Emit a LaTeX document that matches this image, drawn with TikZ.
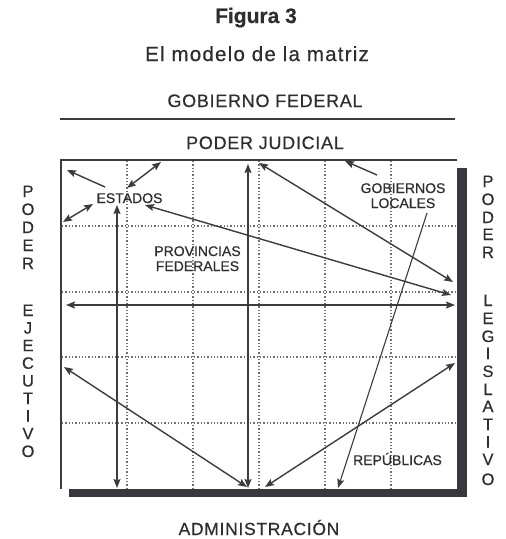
\documentclass[tikz,border=0pt]{standalone}
\usepackage{fontspec}
\setmainfont{Liberation Sans}[FakeBold=0.5]
\usetikzlibrary{arrows.meta}
\definecolor{ink}{HTML}{2E2E2E}
\definecolor{lineink}{HTML}{3C3C3C}
\definecolor{shadowink}{HTML}{38383E}
\definecolor{gridink}{HTML}{707070}
\begin{document}
\begin{tikzpicture}[x=1pt,y=-1pt,
  txt/.style={inner sep=0pt,anchor=base,text=ink},
  boxlbl/.style={txt,font=\fontsize{14}{16}\selectfont,align=center},
  vlet/.style={txt,font=\fontsize{16.5}{16}\selectfont},
  gridline/.style={gridink,dotted,line width=1.3pt},
  conn/.style={lineink,line width=1.4pt},
  both/.style={conn,{Stealth[length=9pt,width=7pt,inset=1.5pt]}-{Stealth[length=9pt,width=7pt,inset=1.5pt]}},
  one/.style={conn,-{Stealth[length=9pt,width=7pt,inset=1.5pt]}},
  thin1/.style={lineink,line width=1.1pt,-{Stealth[length=9pt,width=7pt,inset=1.5pt]}}
]
\useasboundingbox (0,0) rectangle (506,539);
\fill[white] (0,0) rectangle (506,539);

% titles
\node[txt,font=\fontsize{21}{21}\bfseries\selectfont] (fig) at (256,23) {Figura 3};
\node[txt,font=\fontsize{20.5}{21}\selectfont\addfontfeatures{LetterSpace=6}] (tit) at (257,61) {El modelo de la matriz};
\node[txt,font=\fontsize{18}{18}\selectfont\addfontfeatures{LetterSpace=4}] (gob) at (265,107) {GOBIERNO FEDERAL};
\coordinate (ruleL) at (60,119);
\coordinate (ruleR) at (455,119);
\draw[lineink,line width=1.5pt] (ruleL) -- (ruleR);
\node[txt,font=\fontsize{18}{18}\selectfont\addfontfeatures{LetterSpace=4}] (jud) at (265,149) {PODER JUDICIAL};
\node[txt,font=\fontsize{17.5}{18}\selectfont\addfontfeatures{LetterSpace=4}] (adm) at (259,535) {ADMINISTRACIÓN};

% matrix box with shadow
\fill[shadowink] (69,168) rectangle (467,497);
\fill[white] (61,160) rectangle (457,489);
\draw[lineink,line width=1.5pt] (457,160) -- (61,160) -- (61,489);

% grid
\foreach \gx in {127,193,259,325,391}
  \draw[gridline] (\gx,161) -- (\gx,488);
\foreach \gy in {226,292,357,423}
  \draw[gridline] (62,\gy) -- (456,\gy);

% labels inside
\node[boxlbl] (est) at (129.5,203) {ESTADOS};
\node[boxlbl] (prov) at (197.5,256) {PROVINCIAS};
\node[boxlbl] (prov2) at (197.5,271) {FEDERALES};
\node[boxlbl] (gobl) at (403,193) {GOBIERNOS};
\node[boxlbl] (gobl2) at (403,208) {LOCALES};
\node[boxlbl] (rep) at (397.5,465) {REPÚBLICAS};

% vertical side labels
\foreach \ch/\yy [count=\i] in {P/197,O/215,D/233,E/251,R/269,E/316,J/333.6,E/351.2,C/368.8,U/386.4,T/404,I/421.6,V/439.2,O/457}
  \node[vlet] (ej\i) at (28,\yy) {\ch};
\foreach \ch/\yy [count=\i] in {P/187,O/205,D/223,E/240,R/258,L/306,E/324,G/342,I/359,S/377,L/395,A/412,T/430,I/447.5,V/465,O/485}
  \node[vlet] (lg\i) at (488,\yy) {\ch};

% connector end points
\coordinate (a1s) at (105,187); \coordinate (a1e) at (67,170);
\coordinate (a2s) at (127,188); \coordinate (a2e) at (161,162);
\coordinate (a3s) at (93,204);  \coordinate (a3e) at (63,222);
\coordinate (a4s) at (117,205); \coordinate (a4e) at (117,488);
\coordinate (a5s) at (145,205); \coordinate (a5e) at (451,295);
\coordinate (a6s) at (259,163); \coordinate (a6e) at (453,282);
\coordinate (a7s) at (66,305);  \coordinate (a7e) at (455,305);
\coordinate (a8s) at (377,175); \coordinate (a8e) at (345,161);
\coordinate (a9s) at (248,164); \coordinate (a9e) at (248,488);
\coordinate (a10s) at (427,213); \coordinate (a10e) at (338,488);
\coordinate (a11s) at (64,367); \coordinate (a11e) at (247,487);
\coordinate (a12s) at (265,487); \coordinate (a12e) at (455,363);

\draw[one] (a1s) -- (a1e);
\draw[both] (a2s) -- (a2e);
\draw[both] (a3s) -- (a3e);
\draw[both] (a4s) -- (a4e);
\draw[both] (a5s) -- (a5e);
\draw[both] (a6s) -- (a6e);
\draw[both] (a7s) -- (a7e);
\draw[one] (a8s) -- (a8e);
\draw[both] (a9s) -- (a9e);
\draw[thin1] (a10s) -- (a10e);
\draw[both] (a11s) -- (a11e);
\draw[both] (a12s) -- (a12e);
\end{tikzpicture}
\end{document}
